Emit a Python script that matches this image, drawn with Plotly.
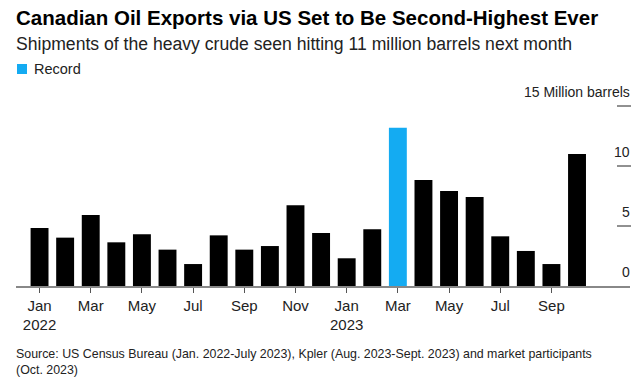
import plotly.graph_objects as go

months = ["Jan 2022", "Feb 2022", "Mar 2022", "Apr 2022", "May 2022", "Jun 2022",
          "Jul 2022", "Aug 2022", "Sep 2022", "Oct 2022", "Nov 2022", "Dec 2022",
          "Jan 2023", "Feb 2023", "Mar 2023", "Apr 2023", "May 2023", "Jun 2023",
          "Jul 2023", "Aug 2023", "Sep 2023", "Oct 2023"]
exports_mb = [4.83, 4.03, 5.92, 3.64, 4.31, 3.03, 1.83, 4.22, 3.03, 3.33, 6.72, 4.42,
              2.31, 4.72, 13.19, 8.83, 7.92, 7.42, 4.14, 2.92, 1.83, 11.0]
tick_months = ["Jan 2022", "Mar 2022", "May 2022", "Jul 2022", "Sep 2022", "Nov 2022",
               "Jan 2023", "Mar 2023", "May 2023", "Jul 2023", "Sep 2023"]
tick_labels = ["Jan<br>2022", "Mar", "May", "Jul", "Sep", "Nov",
               "Jan<br>2023", "Mar", "May", "Jul", "Sep"]
y_ticks = [0, 5, 10, 15]
y_tick_labels = ["0", "5", "10", "15 Million barrels"]

BLACK = "#000000"
BLUE = "#14abf2"
record = max(exports_mb)
colors = [BLUE if v == record else BLACK for v in exports_mb]

FONT = "Liberation Sans, Arial, sans-serif"

fig = go.Figure(go.Bar(x=months, y=exports_mb, marker_color=colors,
                       marker_line_width=0, width=0.7, showlegend=False,
                       hoverinfo="skip"))

W, H = 643, 385
PL, PR, PT, PB = 16, 630, 100, 286          # plot box in pixels
L, R, T, B = PL, W - PR, PT, H - PB
pw, ph = W - L - R, H - T - B

def px_x(x):
    return (x - L) / pw

def px_y(y):
    return (H - B - y) / ph

for v, lab in zip(y_ticks, y_tick_labels):
    if v > 0:
        fig.add_shape(type="line", xref="paper", yref="y", x0=px_x(617), x1=px_x(631),
                      y0=v, y1=v, line=dict(color="#222", width=1))
    fig.add_annotation(xref="paper", yref="y", x=px_x(632), y=v, text=lab, showarrow=False,
                       xanchor="right", yanchor="bottom", yshift=4,
                       font=dict(family=FONT, size=14, color="#222"))

annos = [
    dict(text="<b>Canadian Oil Exports via US Set to Be Second-Highest Ever</b>", y=px_y(18),
         font=dict(family=FONT, size=20.5, color="#000")),
    dict(text="Shipments of the heavy crude seen hitting 11 million barrels next month", y=px_y(44),
         font=dict(family=FONT, size=17.6, color="#222")),
    dict(text="Record", y=px_y(69), x=px_x(32),
         font=dict(family=FONT, size=14.5, color="#222")),
]
for a in annos:
    fig.add_annotation(xref="paper", yref="paper", x=a.get("x", px_x(14)), y=a["y"],
                       xanchor="left", yanchor="middle", showarrow=False,
                       text=a["text"], font=a["font"])

fig.add_shape(type="rect", xref="paper", yref="paper", x0=px_x(17), x1=px_x(27),
              y0=px_y(74), y1=px_y(64), fillcolor=BLUE, line_width=0)

fig.add_annotation(xref="paper", yref="paper", x=px_x(14), y=px_y(345),
                   xanchor="left", yanchor="top", align="left", showarrow=False,
                   text="Source: US Census Bureau (Jan. 2022-July 2023), Kpler (Aug. 2023-Sept. 2023) and market participants<br>(Oct. 2023)",
                   font=dict(family=FONT, size=12.4, color="#222"))

fig.update_layout(
    width=W, height=H,
    margin=dict(l=L, r=R, t=T, b=B),
    paper_bgcolor="white", plot_bgcolor="white",
    hovermode=False,
    xaxis=dict(type="category", range=[-0.92, 23.07], showline=True, linecolor="#888",
               linewidth=1.5, ticks="outside", ticklen=5, tickcolor="#555", tickwidth=1,
               tickvals=tick_months, ticktext=tick_labels, showgrid=False, zeroline=False,
               tickfont=dict(family=FONT, size=15, color="#222"), fixedrange=True),
    yaxis=dict(range=[0, 15.5], showgrid=False, zeroline=False, showticklabels=False,
               showline=False, fixedrange=True),
    font=dict(family=FONT),
)

fig.write_html("out.html", config={"displayModeBar": False, "staticPlot": True},
               post_script="document.body.style.margin='0';document.body.style.overflow='hidden';")
